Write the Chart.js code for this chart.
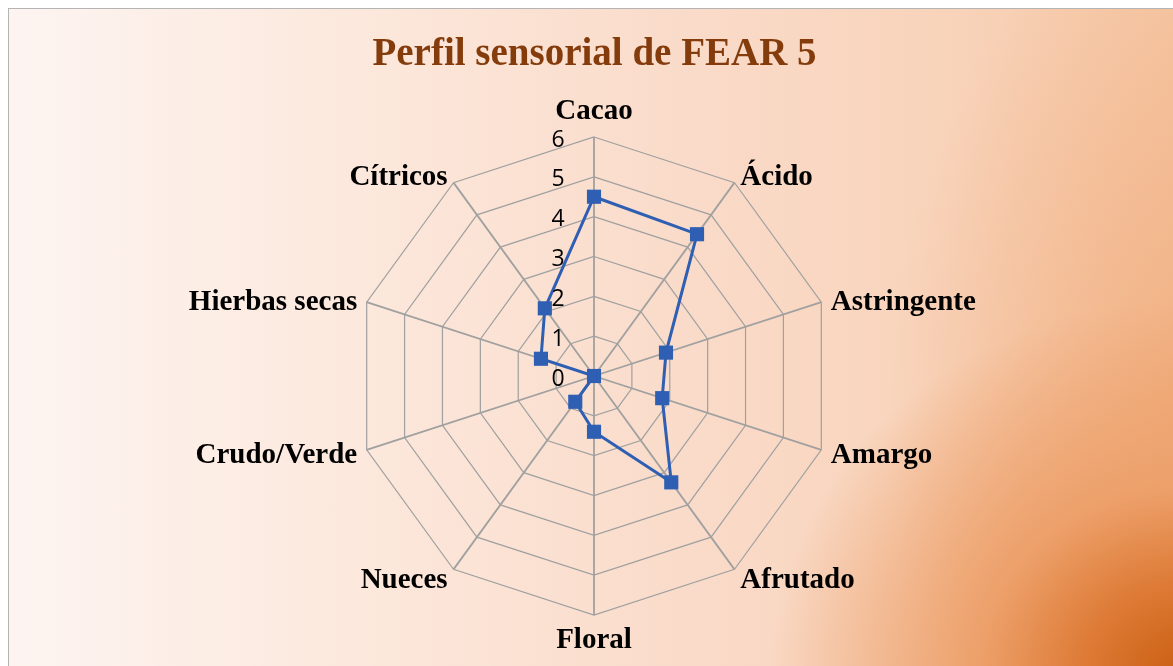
<!DOCTYPE html>
<html>
<head>
<meta charset="utf-8">
<script src="https://cdn.jsdelivr.net/npm/chart.js@4/dist/chart.umd.min.js"></script>
<style>
  html, body { margin: 0; padding: 0; background: #fff; }
  #frame {
    position: absolute; left: 8px; top: 8px; width: 1180px; height: 670px;
    border-left: 1px solid #b4b4b4; border-top: 1px solid #b4b4b4;
    background:
      radial-gradient(ellipse 420px 380px at 100% 100%, #c85c0e 0%, #dd7a35 25%, #eda06a 50%, rgba(246,196,160,0) 100%),
      radial-gradient(ellipse 300px 500px at 100% 60%, rgba(240,170,120,0.8) 0%, rgba(246,196,160,0) 100%),
      linear-gradient(90deg, #fdf4f1 0%, #fce8dc 30%, #fadccb 55%, #f8d3ba 80%, #f5c6a4 100%);
  }
  #wrap { position: absolute; left: 8px; top: 0; width: 1173px; height: 666px; }
</style>
</head>
<body>
<div id="frame"></div>
<div id="wrap"><canvas id="myChart"></canvas></div>
<script>
var categories = ["Cacao", "Ácido", "Astringente", "Amargo", "Afrutado", "Floral", "Nueces", "Crudo/Verde", "Hierbas secas", "Cítricos"];
var values = [4.5, 4.4, 1.9, 1.8, 3.3, 1.4, 0.8, 0, 1.4, 2.1];
var tickLabels = [0, 1, 2, 3, 4, 5, 6];
var lineColor = "#2f5fb3";

// tick labels left of the Cacao axis, category labels placed Excel-style
var labelPlugin = {
    id: "excelLabels",
    afterDatasetsDraw(chart) {
        var r = chart.scales.r;
        var ctx = chart.ctx;
        ctx.save();
        ctx.font = "23px 'Open Sans'";
        ctx.fillStyle = "#000";
        ctx.textAlign = "center";
        ctx.textBaseline = "middle";
        tickLabels.forEach(t => {
            var d = r.getDistanceFromCenterForValue(t);
            ctx.fillText(String(t), r.xCenter - 36, r.yCenter - d + 3);
        });

        ctx.font = "bold 29px 'Liberation Serif'";
        var outer = r.drawingArea;
        categories.forEach((c, i) => {
            var p = r.getPointPosition(i, outer + 10);
            var x = p.x, y = p.y;
            if (Math.abs(x - r.xCenter) < 1) {
                ctx.textAlign = "center";
                y = y < r.yCenter ? y - 15 : y + 16;
            } else {
                ctx.textAlign = x > r.xCenter ? "left" : "right";
                y += 3;
            }
            ctx.fillText(c, x, y);
        });
        ctx.restore();
    }
};

new Chart("myChart", {
    type: "radar",
    data: {
        labels: categories,
        datasets: [
            {
                data: values,
                borderColor: lineColor,
                backgroundColor: lineColor,
                borderWidth: 3,
                fill: false,
                pointStyle: "rect",
                pointRadius: 10,
                pointHoverRadius: 10,
                pointBackgroundColor: lineColor,
                pointBorderWidth: 0,
            },
        ],
    },
    options: {
        responsive: true,
        maintainAspectRatio: false,
        animation: false,
        layout: { padding: { top: 0, bottom: 50, left: 0, right: 0 } },
        scales: {
            r: {
                min: 0,
                max: 6,
                ticks: { display: false, stepSize: 1 },
                grid: { color: "#a0a0a0", lineWidth: 1.2 },
                angleLines: { color: "#a0a0a0", lineWidth: 1.8 },
                pointLabels: { display: false },
            },
        },
        plugins: {
            legend: { display: false },
            tooltip: { enabled: false },
            title: {
                display: true,
                text: "Perfil sensorial de FEAR 5",
                color: "#843c0c",
                font: { family: "'Liberation Serif'", size: 39, weight: "bold" },
                padding: { top: 32, bottom: 59 },
            },
        },
    },
    plugins: [labelPlugin],
});
</script>
</body>
</html>
